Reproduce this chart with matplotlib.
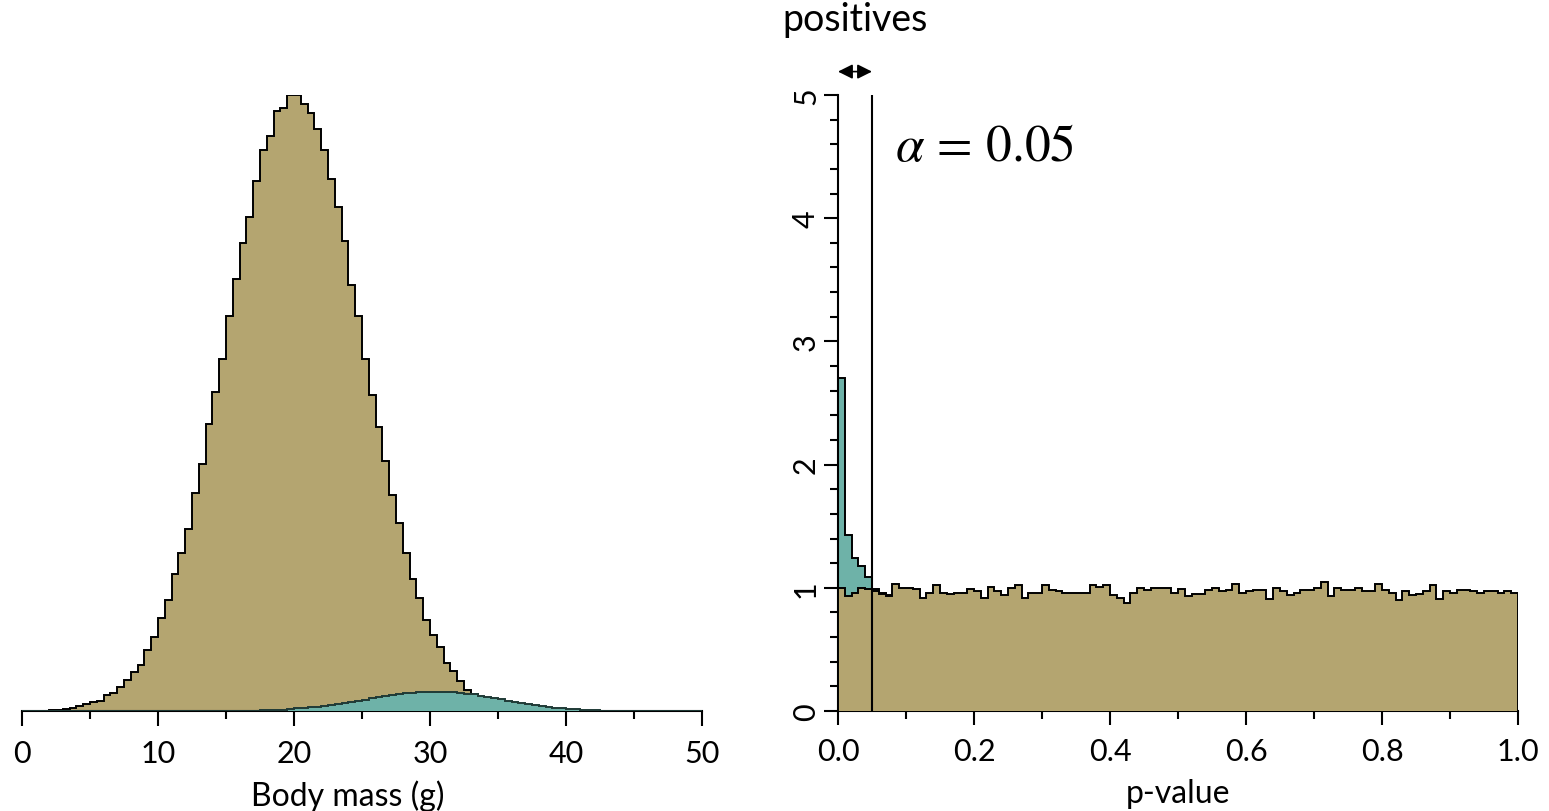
import numpy as np
import matplotlib
matplotlib.use("Agg")
import matplotlib.pyplot as plt
from matplotlib.ticker import MultipleLocator

plt.rcParams['font.family'] = ['Lato', 'DejaVu Sans']
plt.rcParams['mathtext.fontset'] = 'stix'

# Left panel: body mass histograms, 0.5 g bins from 0 to 50 (arbitrary height units)
mass_edges = np.arange(0, 50.5, 0.5)
all_mass = [
    0, 0, 0.2, 0.4, 0.8, 1.2, 2.0, 2.7, 4.7, 6.7,
    8.7, 10.3, 16, 18, 23.7, 31.3, 39.3, 46.3, 61.3, 73.7,
    93, 111.3, 137.3, 157.7, 181.7, 217.7, 247, 287, 318.7, 352,
    395.3, 432, 468.7, 494.3, 530.3, 561, 575.3, 600.3, 603.7, 616.3,
    616, 607, 598.7, 582, 561, 532, 504.3, 470.3, 426.3, 395,
    352, 316.3, 283.7, 249.7, 216.3, 187.7, 158.3, 132, 113.3, 90.7,
    75.7, 64, 47.7, 40.3, 30.3, 21, 17, 12.7, 8.5, 6.5,
    5, 3.5, 2.5, 1.8, 1.2, 0.8, 0.5, 0.3, 0.2, 0.1,
    0, 0, 0, 0, 0, 0, 0, 0, 0, 0,
    0, 0, 0, 0, 0, 0, 0, 0, 0, 0,
]
positive_mass = [
    0, 0, 0, 0, 0, 0, 0, 0, 0, 0,
    0, 0, 0, 0, 0, 0, 0, 0, 0, 0,
    0, 0, 0, 0, 0, 0, 0, 0, 0.1, 0.1,
    0.1, 0.1, 0.2, 0.3, 0.4, 0.6, 0.8, 1.0, 1.3, 2.0,
    2.6, 3.0, 3.7, 4.3, 5.2, 6.0, 7.0, 8.0, 9.0, 10.0,
    11.2, 12.8, 14.3, 15.5, 16.3, 17.0, 17.8, 18.3, 18.7, 19.0,
    18.6, 19.0, 19.2, 18.8, 18.2, 17.3, 16.6, 15.5, 14.2, 13.0,
    11.8, 10.3, 9.0, 8.0, 7.0, 5.8, 5.0, 4.0, 3.3, 2.6,
    2.0, 1.6, 1.2, 0.9, 0.7, 0.5, 0.3, 0.2, 0.1, 0,
    0, 0, 0, 0, 0, 0, 0, 0, 0, 0,
]

# Right panel: p-value densities, 0.01 bins from 0 to 1
p_edges = np.linspace(0, 1, 101)
null_p = [
    1.00, 0.93, 0.96, 1.00, 0.99, 0.97, 0.95, 0.93, 1.03, 1.00,
    1.00, 0.99, 0.92, 0.96, 1.02, 0.96, 0.95, 0.96, 0.96, 0.99,
    0.97, 0.92, 1.01, 0.97, 0.94, 1.00, 1.02, 0.92, 0.96, 0.96,
    1.02, 0.98, 0.97, 0.955, 0.96, 0.96, 0.96, 1.02, 1.01, 1.025,
    0.94, 0.92, 0.88, 0.96, 1.00, 0.98, 1.00, 1.00, 1.00, 0.96,
    0.99, 0.93, 0.95, 0.95, 0.98, 1.00, 0.97, 0.98, 1.03, 0.955,
    0.97, 0.98, 0.985, 0.91, 1.00, 0.97, 0.94, 0.96, 0.98, 0.985,
    1.00, 1.045, 0.93, 1.00, 0.98, 0.98, 1.00, 0.97, 0.97, 1.03,
    0.985, 0.96, 0.90, 0.97, 0.94, 0.95, 0.97, 1.02, 0.91, 0.97,
    0.96, 0.98, 0.98, 0.97, 0.96, 0.97, 0.97, 0.96, 0.97, 0.96,
]
effect_p = [
    2.70, 1.43, 1.24, 1.18, 1.09, 0.99, 0.96, 0.94, 0.93, 0.92,
    0.92, 0.91, 0.90, 0.91, 0.92, 0.90, 0.91, 0.90, 0.91, 0.92,
    0.90, 0.89, 0.91, 0.90, 0.90, 0.91, 0.92, 0.89, 0.90, 0.91,
    0.92, 0.90, 0.91, 0.90, 0.90, 0.91, 0.90, 0.92, 0.91, 0.90,
    0.89, 0.88, 0.86, 0.90, 0.91, 0.90, 0.92, 0.91, 0.90, 0.90,
    0.91, 0.89, 0.90, 0.90, 0.91, 0.92, 0.90, 0.91, 0.92, 0.90,
    0.90, 0.91, 0.92, 0.88, 0.91, 0.90, 0.89, 0.90, 0.91, 0.90,
    0.92, 0.93, 0.89, 0.91, 0.90, 0.91, 0.92, 0.90, 0.90, 0.93,
    0.91, 0.90, 0.87, 0.90, 0.89, 0.90, 0.91, 0.92, 0.88, 0.90,
    0.90, 0.91, 0.90, 0.90, 0.90, 0.91, 0.90, 0.90, 0.91, 0.90,
]
alpha_level = 0.05

khaki = "#b4a570"
teal = "#6eb2a8"
edge_lw = 1.4

fig = plt.figure(figsize=(15.49, 8.12), dpi=100)
ax1 = fig.add_axes([22 / 1549, 100 / 812, 680 / 1549, 616 / 812])
ax2 = fig.add_axes([838 / 1549, 100 / 812, 680 / 1549, 616 / 812])

# left: khaki underneath, teal on top
ax1.stairs(all_mass, mass_edges, fill=True, color=khaki, zorder=1)
ax1.stairs(all_mass, mass_edges, color="black", lw=edge_lw, baseline=0, zorder=2)
ax1.stairs(positive_mass, mass_edges, fill=True, color=teal, zorder=3)
ax1.stairs(positive_mass, mass_edges, color="#1f3a36", lw=edge_lw, baseline=0, zorder=4)

ax1.set_xlim(0, 50)
ax1.set_ylim(0, max(all_mass))
for s in ["top", "right", "left"]:
    ax1.spines[s].set_visible(False)
ax1.spines["bottom"].set_linewidth(1.5)
ax1.set_yticks([])
ax1.xaxis.set_major_locator(MultipleLocator(10))
ax1.xaxis.set_minor_locator(MultipleLocator(5))
ax1.tick_params(axis="x", which="major", length=11, width=1.5, labelsize=22, pad=9)
ax1.tick_params(axis="x", which="minor", length=6, width=1.5)
ax1.set_xlabel("Body mass (g)", fontsize=23, labelpad=9)
ax1.xaxis.label.set_x(0.479)

# right: teal underneath, khaki on top
ax2.stairs(effect_p, p_edges, fill=True, color=teal, zorder=1)
ax2.stairs(effect_p, p_edges, color="black", lw=edge_lw, baseline=0, zorder=2)
ax2.stairs(null_p, p_edges, fill=True, color=khaki, zorder=3)
ax2.stairs(null_p, p_edges, color="black", lw=edge_lw, baseline=0, zorder=4)
ax2.axvline(alpha_level, color="black", lw=1.5, zorder=5)

ax2.set_xlim(0, 1)
ax2.set_ylim(0, 5)
for s in ["top", "right"]:
    ax2.spines[s].set_visible(False)
ax2.spines["bottom"].set_linewidth(1.5)
ax2.spines["left"].set_linewidth(1.5)
ax2.xaxis.set_major_locator(MultipleLocator(0.2))
ax2.xaxis.set_minor_locator(MultipleLocator(0.1))
ax2.yaxis.set_major_locator(MultipleLocator(1))
ax2.yaxis.set_minor_locator(MultipleLocator(0.2))
ax2.set_xticks(ax2.get_xticks())
ax2.set_xticklabels([f"{v:.1f}" for v in ax2.get_xticks()])
ax2.set_xlim(0, 1)
ax2.tick_params(axis="both", which="major", length=10, width=1.5, labelsize=22)
ax2.tick_params(axis="x", which="major", pad=9)
ax2.tick_params(axis="y", which="major", pad=3)
ax2.tick_params(axis="both", which="minor", length=6, width=1.5)
for lab in ax2.get_yticklabels():
    lab.set_rotation(90)
    lab.set_va("center")
ax2.set_xlabel("p-value", fontsize=23, labelpad=9)

ax2.text(0.084, 4.59, r"$\alpha\,=\,0.05$", fontsize=37, ha="left", va="center")
ax2.annotate("", xy=(0, 5.19), xytext=(alpha_level, 5.19),
             arrowprops=dict(arrowstyle="<|-|>", color="black", lw=1.2,
                             mutation_scale=22, shrinkA=0, shrinkB=0),
             annotation_clip=False)
ax2.text(alpha_level / 2, 5.62, "positives", fontsize=27, ha="center", va="center",
         clip_on=False)

fig.savefig("out.png", dpi=100, facecolor="white")
